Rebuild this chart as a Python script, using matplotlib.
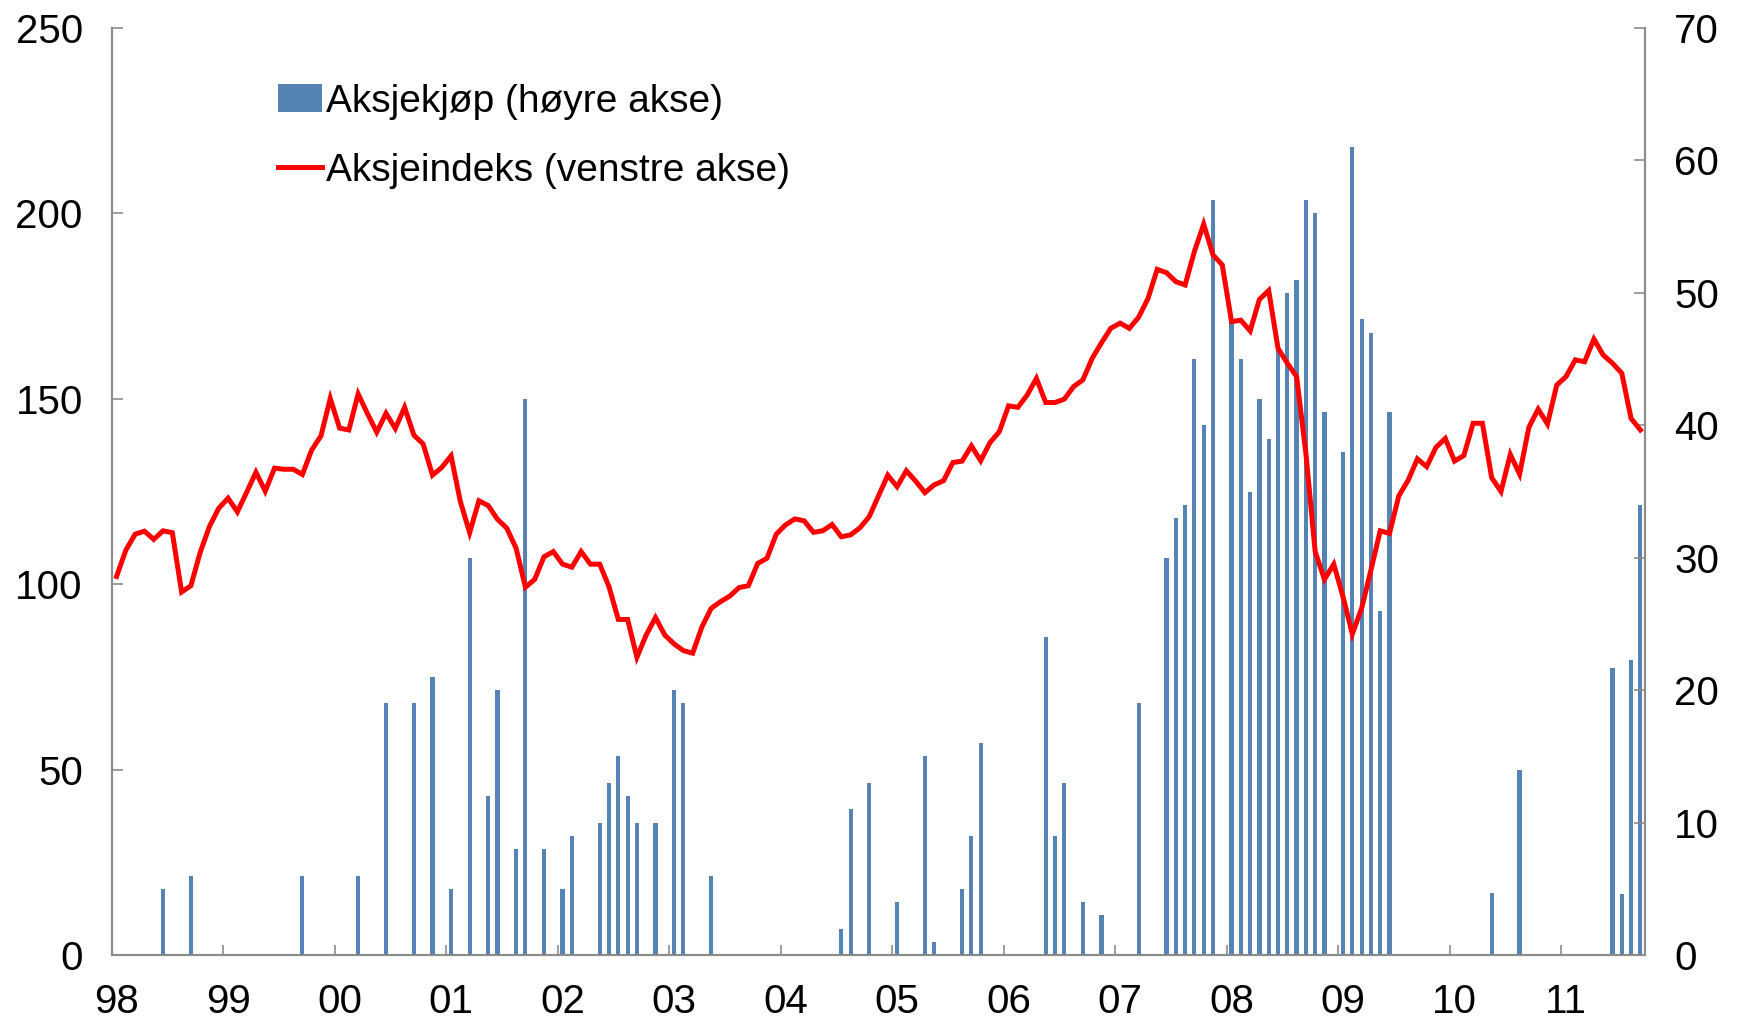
import numpy as np
import matplotlib
matplotlib.use("Agg")
import matplotlib.pyplot as plt
from matplotlib.ticker import FixedLocator

plt.rcParams['font.family'] = ['Liberation Sans', 'DejaVu Sans']

# Monthly data, Jan 1998 - Sep 2011
stock_index = [
    102.1, 109.2, 113.5, 114.3, 112.1, 114.4, 113.9, 97.9, 99.6, 108.6, 115.6, 120.5,   # 1998
    123.2, 119.5, 124.8, 130.2, 125.1, 131.3, 131.0, 131.0, 129.6, 136.2, 140.0, 150.1,  # 1999
    142.1, 141.6, 151.3, 146.0, 141.0, 146.1, 142.0, 147.7, 140.2, 137.8, 129.4, 131.5,  # 2000
    134.6, 122.3, 113.9, 122.5, 121.2, 117.5, 115.1, 109.7, 99.2, 101.3, 107.4, 108.8,   # 2001
    105.4, 104.6, 108.8, 105.4, 105.4, 99.3, 90.5, 90.5, 80.3, 86.3, 91.0, 86.3,         # 2002
    83.9, 82.1, 81.4, 88.5, 93.5, 95.3, 96.8, 99.1, 99.6, 105.6, 107.0, 113.5,           # 2003
    116.0, 117.6, 117.1, 114.0, 114.4, 116.1, 112.8, 113.3, 115.2, 118.2, 123.8, 129.4,  # 2004
    126.3, 130.6, 127.8, 124.7, 126.8, 127.9, 132.8, 133.2, 137.3, 133.3, 138.2, 141.1,  # 2005
    148.1, 147.7, 151.0, 155.5, 149.0, 149.0, 149.9, 153.3, 155.1, 160.9, 165.1, 169.0,  # 2006
    170.4, 169.0, 172.0, 177.0, 184.9, 184.0, 181.6, 180.7, 189.7, 197.1, 188.8, 186.1,  # 2007
    170.8, 171.2, 168.3, 176.8, 179.2, 163.6, 159.6, 156.0, 135.3, 108.8, 101.3, 105.4,  # 2008
    96.6, 86.6, 93.5, 103.8, 114.4, 113.7, 123.8, 128.0, 133.8, 131.7, 136.9, 139.3,     # 2009
    133.2, 134.7, 143.4, 143.4, 128.7, 125.0, 135.0, 129.7, 142.3, 147.2, 143.2, 153.7,  # 2010
    156.0, 160.5, 160.0, 166.1, 161.8, 159.6, 156.9, 144.7, 141.6,                       # 2011
]

stock_purchases = [
    0, 0, 0, 0, 0, 5, 0, 0, 6, 0, -0.3, 0,        # 1998
    0, 0, 0, 0, 0, 0, 0, 0, 6, 0, 0, 0,           # 1999
    0, 0, 6, 0, 0, 19, 0, 0, 19, 0, 21, 0,        # 2000
    5, 0, 30, 0, 12, 20, 0, 8, 42, 0, 8, 0,       # 2001
    5, 9, 0, 0, 10, 13, 15, 12, 10, 0, 10, 0,     # 2002
    20, 19, 0, 0, 6, 0, 0, 0, 0, 0, 0, 0,         # 2003
    0, 0, 0, 0, 0, 0, 2, 11, 0, 13, 0, 0,         # 2004
    4, 0, 0, 15, 1, 0, 0, 5, 9, 16, 0, 0,         # 2005
    0, 0, 0, 0, 24, 9, 13, 0, 4, 0, 3, 0,         # 2006
    0, 0, 19, 0, 0, 30, 33, 34, 45, 40, 57, 0,    # 2007
    48, 45, 35, 42, 39, 46, 50, 51, 57, 56, 41, 0,  # 2008
    38, 61, 48, 47, 26, 41, 0, 0, 0, 0, 0, 0,     # 2009
    0, 0, 0, 0, 4.7, 0, 0, 14, 0, 0, 0, 0,        # 2010
    0, 0, 0, 0, 0, 21.7, 4.6, 22.3, 34,           # 2011
]

year_labels = ['98', '99', '00', '01', '02', '03', '04', '05', '06', '07', '08', '09', '10', '11']

months = np.arange(len(stock_index))

fig = plt.figure(figsize=(17.38, 10.21), dpi=100)
ax1 = fig.add_axes([0.0644, 0.0646, 0.9465 - 0.0644, 0.9726 - 0.0646])
ax2 = ax1.twinx()

# bars on the right axis, line on the left axis drawn on top
bars = ax2.bar(months, stock_purchases, width=0.45, color='#5583B4', linewidth=0,
               label='Aksjekjøp (høyre akse)')
line, = ax1.plot(months, stock_index, color='#FF0000', linewidth=3.6,
                 label='Aksjeindeks (venstre akse)', solid_joinstyle='miter')
ax1.set_zorder(ax2.get_zorder() + 1)
ax1.patch.set_visible(False)

ax1.set_xlim(-0.5, len(months) - 0.5)
ax1.set_ylim(0, 250)
ax2.set_ylim(0, 70)
ax1.set_yticks(range(0, 251, 50))
ax2.set_yticks(range(0, 71, 10))

ax1.set_xticks(np.arange(0, len(months), 12))
ax1.set_xticklabels(year_labels)
ax1.xaxis.set_minor_locator(FixedLocator(np.arange(-0.5, len(months), 12)))

grey = '#8C8C8C'
for ax in (ax1, ax2):
    ax.spines['top'].set_visible(False)
    for s in ('left', 'right', 'bottom'):
        ax.spines[s].set_color(grey)
        ax.spines[s].set_linewidth(1.5)

ax1.tick_params(axis='y', direction='in', length=8, width=1.2, color=grey,
                labelsize=29, pad=21)
ax2.tick_params(axis='y', direction='in', length=8, width=1.2, color=grey,
                labelsize=29, pad=21)
ax1.tick_params(axis='x', which='major', length=0, labelsize=29, pad=20)
ax1.tick_params(axis='x', which='minor', direction='in', length=7, width=1.2, color=grey)

ax1.legend([bars, line], [bars.get_label(), line.get_label()],
           loc='upper left', bbox_to_anchor=(0.160, 0.918), bbox_transform=fig.transFigure,
           frameon=False, fontsize=28, handlelength=1.12, handletextpad=0.1,
           labelspacing=0.85, borderpad=0, borderaxespad=0)

fig.savefig('out.png', dpi=100)
